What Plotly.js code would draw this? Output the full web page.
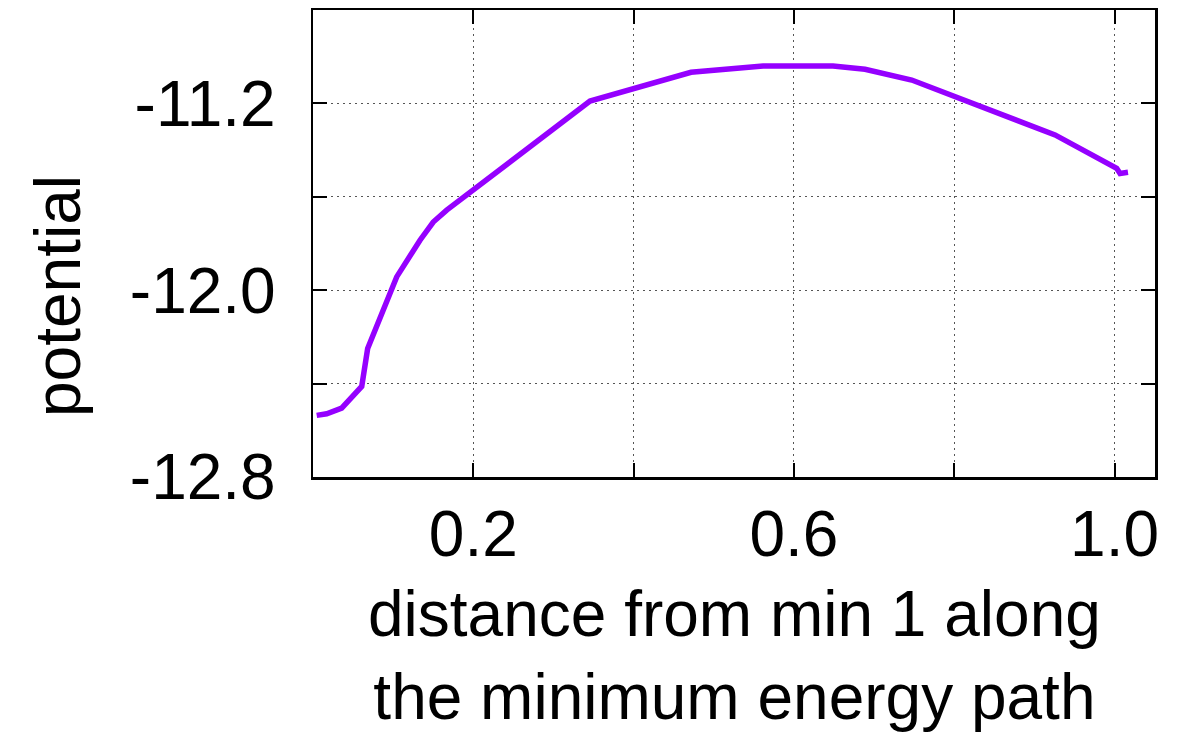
<!DOCTYPE html>
<html>
<head>
<meta charset="utf-8">
<script src="https://cdn.plot.ly/plotly-3.0.1.min.js"></script>
<style>html,body{margin:0;padding:0;background:#fff;}#chart{width:1203px;height:733px;}</style>
</head>
<body>
<div id="chart"></div>
<script>
const distance = [0.0046, 0.0171, 0.0358, 0.0608, 0.0682, 0.0836, 0.0920, 0.1044, 0.1335, 0.1500, 0.1668, 0.3456, 0.4716, 0.5615, 0.6488, 0.6887, 0.7470, 0.8696, 0.9258, 1.0027, 1.0069, 1.0168];
const potential = [-12.536, -12.529, -12.505, -12.412, -12.250, -12.114, -12.043, -11.943, -11.786, -11.708, -11.657, -11.190, -11.067, -11.040, -11.040, -11.054, -11.100, -11.263, -11.335, -11.478, -11.500, -11.495];
const xTickVals = [0, 0.2, 0.4, 0.6, 0.8, 1.0];
const xTickText = ['', '0.2', '', '0.6', '', '1.0'];
const yTickVals = [-12.8, -12.4, -12.0, -11.6, -11.2, -10.8];
const yTickText = ['-12.8', '', '-12.0', '', '-11.2', ''];
const xTitle = 'distance from min 1 along<br>the minimum energy path';
const yTitle = 'potential';

const FONT = 'Liberation Sans, Arial, sans-serif';
const FS = 64;
const trace = {
  x: distance, y: potential, type: 'scatter', mode: 'lines',
  line: {color: '#9500ff', width: 5.5}, hoverinfo: 'skip'
};
const axisCommon = {
  showline: true, linecolor: '#000', linewidth: 2.5, mirror: 'ticks',
  ticks: 'inside', ticklen: 14, tickwidth: 2, tickcolor: '#000',
  showgrid: true, gridcolor: '#555', gridwidth: 1, griddash: '2px,4px',
  zeroline: false, tickfont: {family: FONT, size: FS, color: '#000'},
  tickmode: 'array'
};
const layout = {
  width: 1203, height: 733,
  margin: {l: 313, r: 48, t: 10, b: 256},
  paper_bgcolor: '#fff', plot_bgcolor: '#fff',
  showlegend: false,
  xaxis: Object.assign({}, axisCommon, {range: [0, 1.0505], tickvals: xTickVals, ticktext: xTickText, ticklabelstandoff: 0}),
  yaxis: Object.assign({}, axisCommon, {range: [-12.8, -10.8], tickvals: yTickVals, ticktext: yTickText, ticklabelstandoff: 22}),
  annotations: [
    {text: xTitle, xref: 'paper', yref: 'paper', x: 0.5, y: -0.398, yshift: 7, xanchor: 'center', yanchor: 'middle', showarrow: false, font: {family: FONT, size: FS, color: '#000'}},
    {text: yTitle, xref: 'paper', yref: 'paper', x: 0, xshift: -255, y: 0.3876, xanchor: 'center', yanchor: 'middle', textangle: -90, showarrow: false, font: {family: FONT, size: FS, color: '#000'}}
  ]
};
Plotly.newPlot('chart', [trace], layout, {staticPlot: true, displayModeBar: false});
</script>
</body>
</html>
